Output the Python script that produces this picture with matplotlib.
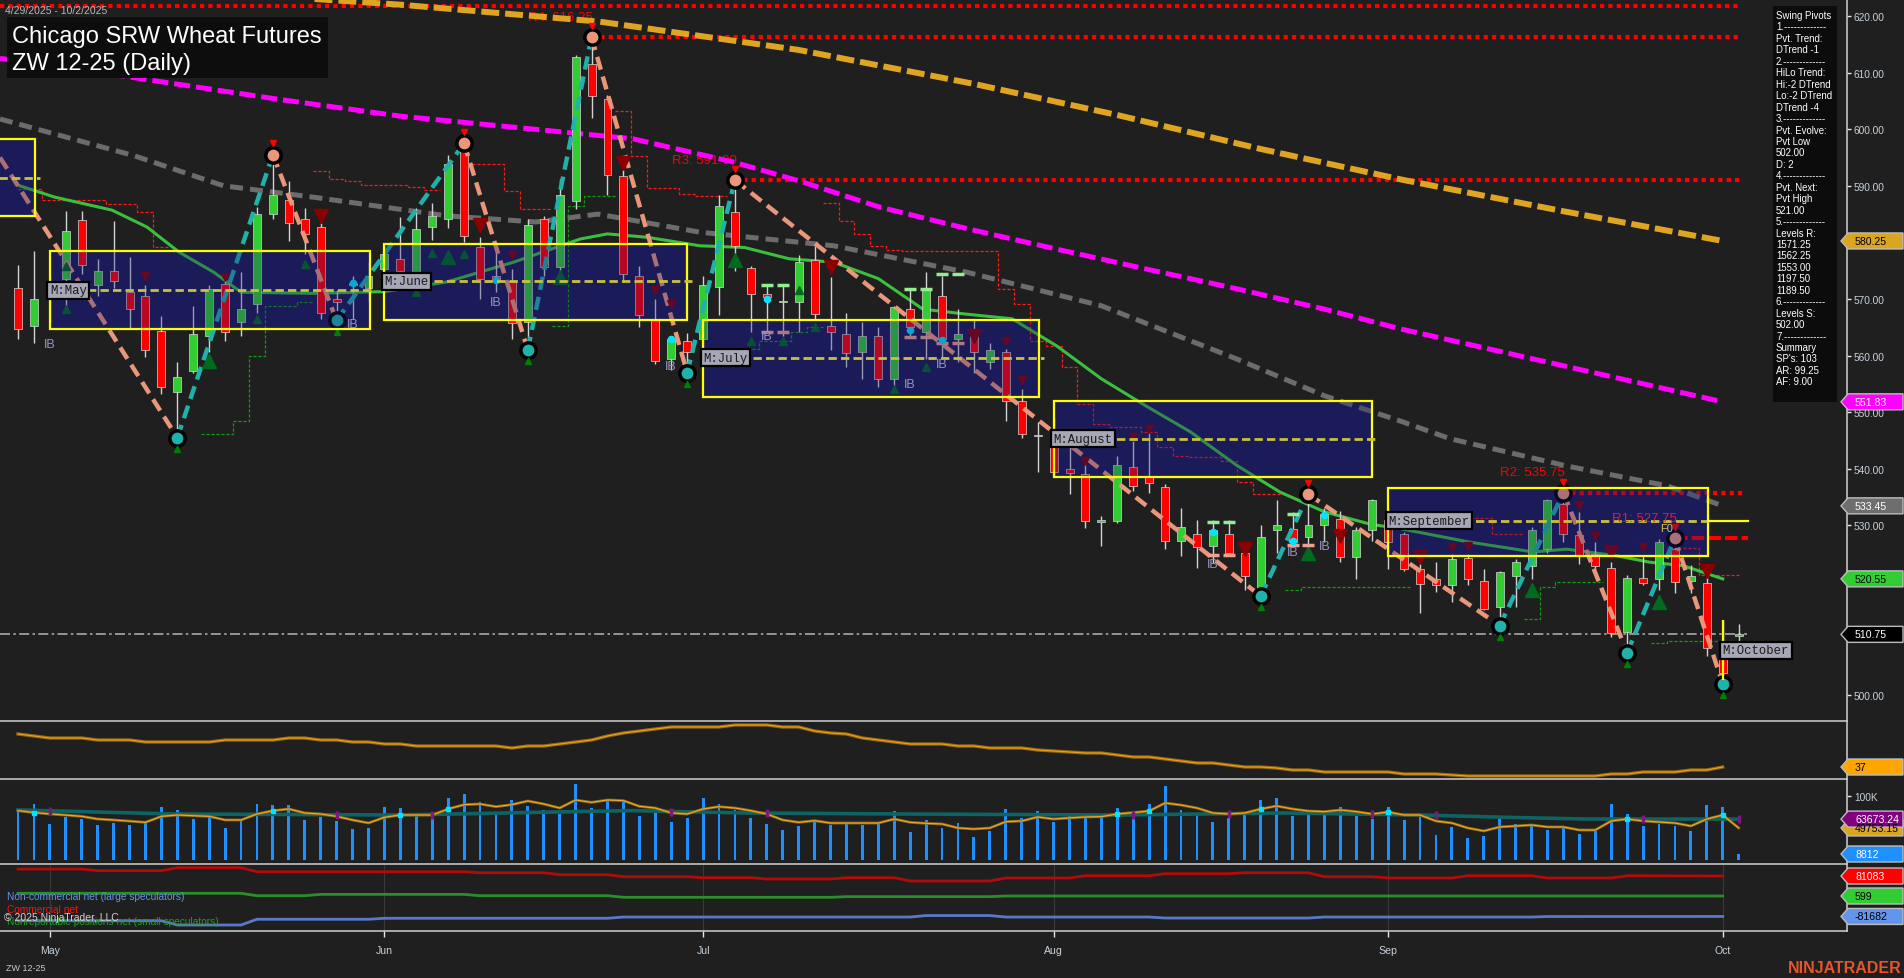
import matplotlib
matplotlib.use("Agg")
import matplotlib.pyplot as plt
from matplotlib.patches import Rectangle, Polygon
import numpy as np
import pandas as pd

plt.rcParams['font.family'] = ['Liberation Sans', 'DejaVu Sans']

W, H = 1904, 979
RIGHT = 1847
BG = '#1f1f1f'
AXC = '#c8d2dc'
XMIN, XMAX = -1.13, 114.8

# ---------------- data ----------------
holidays = pd.to_datetime(['2025-05-26', '2025-06-19', '2025-07-04', '2025-09-01'])
dates = pd.bdate_range('2025-04-29', '2025-10-02')
dates = dates[~dates.isin(holidays)]

opens = [572.0, 565.3, 570.0, 573.5, 584.0, 572.5, 575.0, 571.3, 570.6, 564.3,
         553.6, 557.3, 563.5, 572.6, 566.0, 569.1, 585.0, 587.4, 584.1, 582.7,
         570.0, 572.9, 572.0, 575.3, 577.0, 574.7, 582.7, 584.1, 596.8, 579.1,
         574.1, 573.2, 566.0, 584.1, 575.6, 587.3, 611.5, 605.3, 591.8, 574.1,
         566.2, 559.4, 562.6, 563.0, 572.1, 585.3, 575.4, 570.8, 569.4, 569.4,
         576.8, 565.3, 563.9, 560.6, 563.4, 555.9, 568.3, 564.1, 570.6, 562.9,
         563.8, 558.8, 560.6, 552.0, 545.8, 546.4, 540.0, 539.1, 530.6, 530.8,
         540.4, 538.8, 536.7, 527.3, 528.4, 526.4, 528.4, 525.2, 518.5, 529.1,
         529.4, 527.9, 530.0, 531.1, 524.4, 529.1, 531.0, 528.4, 522.3, 520.5,
         519.4, 524.2, 520.1, 515.5, 521.1, 522.9, 525.8, 533.8, 528.3, 525.0,
         522.4, 511.2, 520.7, 520.5, 525.8, 520.2, 519.8, 508.5, 510.5]
highs = [576.0, 578.5, 574.0, 585.6, 585.5, 577.0, 583.8, 577.4, 572.4, 567.0,
         558.8, 568.8, 572.4, 574.1, 574.7, 586.2, 595.5, 590.9, 586.0, 583.5,
         571.5, 574.1, 576.5, 579.5, 584.4, 586.0, 587.0, 595.5, 597.5, 580.9,
         578.2, 575.3, 584.1, 584.7, 591.2, 613.1, 616.25, 606.0, 593.0, 575.9,
         570.0, 563.5, 564.0, 574.0, 588.3, 591.0, 575.9, 572.4, 572.4, 577.7,
         579.4, 573.8, 567.5, 565.9, 565.0, 568.8, 571.8, 574.7, 574.1, 568.2,
         566.5, 562.3, 561.2, 554.1, 548.2, 549.0, 544.5, 541.5, 531.7, 542.3,
         545.3, 546.9, 537.3, 533.0, 531.0, 531.0, 531.0, 526.0, 530.0, 534.4,
         532.4, 535.5, 533.0, 532.6, 529.7, 534.7, 533.0, 528.8, 523.5, 523.5,
         524.9, 525.0, 522.3, 522.0, 524.1, 529.7, 534.7, 535.75, 532.3, 527.0,
         523.5, 521.2, 524.7, 527.6, 527.75, 523.0, 522.9, 513.2, 512.5]
lows = [563.0, 562.3, 566.0, 567.6, 574.5, 570.6, 572.0, 564.7, 559.7, 553.2,
        545.5, 557.0, 560.6, 562.6, 563.5, 567.6, 584.1, 580.3, 578.0, 566.5,
        566.2, 566.5, 569.5, 573.0, 574.0, 572.5, 580.5, 582.5, 580.0, 570.0,
        571.2, 563.0, 561.0, 574.0, 573.5, 585.9, 602.0, 588.4, 573.0, 565.0,
        558.5, 557.5, 557.0, 561.0, 567.1, 575.0, 564.1, 564.0, 563.5, 564.1,
        566.5, 560.9, 557.9, 555.9, 554.4, 553.5, 563.5, 559.4, 559.4, 558.8,
        557.0, 557.6, 548.5, 545.5, 539.4, 538.5, 535.5, 529.6, 526.4, 530.5,
        536.1, 535.8, 525.8, 524.6, 522.5, 523.4, 524.6, 518.5, 517.5, 525.2,
        526.2, 525.5, 527.0, 523.5, 520.5, 527.3, 522.3, 522.0, 514.6, 518.2,
        516.4, 519.4, 515.0, 512.3, 515.5, 520.5, 525.2, 527.0, 523.2, 522.3,
        510.2, 507.5, 519.4, 518.5, 518.0, 518.0, 507.0, 502.0, 509.5]
closes = [564.7, 570.0, 571.5, 582.0, 576.0, 575.0, 573.2, 568.3, 561.0, 554.4,
          556.3, 563.9, 571.8, 564.1, 568.2, 585.0, 588.3, 583.5, 581.5, 567.6,
          569.4, 572.4, 574.0, 578.0, 575.0, 582.4, 584.7, 593.8, 581.2, 573.6,
          573.2, 565.8, 583.0, 575.6, 588.3, 612.8, 605.9, 591.9, 574.4, 567.1,
          559.1, 562.9, 560.6, 572.5, 586.4, 579.4, 570.9, 570.3, 569.6, 576.5,
          567.3, 564.1, 560.4, 563.5, 555.9, 568.5, 565.0, 571.8, 563.0, 563.8,
          560.6, 560.9, 552.0, 546.1, 545.9, 539.4, 539.3, 530.8, 530.9, 540.6,
          537.0, 537.5, 527.3, 529.7, 526.1, 529.1, 525.2, 521.0, 528.0, 530.0,
          527.0, 530.0, 532.0, 524.4, 529.1, 534.4, 527.0, 522.3, 519.7, 519.5,
          524.1, 520.5, 515.3, 521.7, 523.6, 529.1, 534.4, 528.5, 524.7, 522.9,
          511.0, 520.7, 519.8, 527.1, 520.0, 521.0, 508.3, 504.0, 510.75]

# moving averages (bar index, value)
orange_x = [8, 17, 24, 36.5, 49, 60, 69, 78, 87, 97, 107]
orange_y = [625.0, 623.3, 622.0, 619.0, 614.0, 608.0, 602.5, 596.5, 591.0, 585.5, 580.25]
magenta_x = [-1.13, 1.6, 16.3, 24, 34.2, 38.6, 44.9, 49.1, 54, 59.6, 65.2, 70.8, 76.5, 82, 86.8, 97, 107]
magenta_y = [612.5, 611.5, 605.3, 602.3, 599.5, 598.3, 594.2, 590.8, 586.3, 582.4, 578.8, 575.3,
             571.8, 568.2, 564.7, 558.2, 551.83]
grey_x = [-1.13, 7.3, 12.9, 18.5, 26.9, 32.5, 36.4, 42.8, 51.2, 59.6, 68, 76.5, 82, 86.8, 89.9,
          97.2, 103.5, 107]
grey_y = [601.8, 595.3, 590.0, 588.0, 584.7, 583.6, 585.0, 581.8, 579.4, 574.7, 568.8, 559.4,
          552.9, 548.4, 545.3, 540.5, 537.0, 533.45]
green_x = [0.1, 2.3, 5.9, 8.1, 10.1, 12.3, 14, 18.5, 23, 26.9, 31.1, 35.3, 37, 39.5, 42.8, 45.6,
           48.4, 51.2, 54, 56.8, 59.6, 62.4, 65.2, 68, 70.8, 73.6, 76.5, 79.2, 82, 84.9, 86.8, 91,
           95.1, 97.2, 100.4, 102.4, 104.5, 107]
green_y = [590.0, 588.0, 585.7, 582.7, 578.3, 574.7, 571.2, 571.0, 571.3, 573.0, 576.5, 580.6,
           581.5, 580.9, 579.4, 579.1, 577.1, 576.5, 573.6, 568.2, 567.3, 566.5, 561.7, 555.9,
           551.1, 546.5, 540.6, 535.9, 532.4, 530.2, 529.4, 527.1, 525.3, 525.8, 524.6, 523.5,
           522.9, 520.55]

# trailing stop steps: (first bar, last bar, level)
red_trail = [(0, 1, 589.4), (2, 5, 587.4), (6, 7, 586.8), (8, 8, 585.3), (9, 9, 579.1),
             (19, 19, 592.6), (20, 20, 591.2), (21, 21, 590.8), (22, 24, 590.2), (25, 25, 589.8),
             (26, 26, 589.3), (29, 30, 593.8), (31, 31, 589.1), (32, 33, 585.9),
             (38, 38, 603.2), (39, 39, 595.3), (40, 41, 589.6), (42, 42, 588.6), (43, 44, 588.2),
             (51, 51, 586.9), (52, 52, 583.8), (53, 53, 581.5), (54, 54, 579.4), (55, 55, 578.7),
             (56, 61, 578.4), (62, 62, 571.7), (63, 63, 569.1), (64, 64, 562.6), (65, 65, 561.7),
             (66, 66, 557.9), (67, 67, 551.4), (68, 68, 547.9), (69, 70, 547.3), (71, 71, 546.5),
             (72, 72, 543.8), (73, 73, 542.3), (74, 75, 542.1), (76, 76, 541.4), (77, 77, 537.7),
             (78, 79, 535.5), (91, 92, 531.3), (93, 94, 528.5), (105, 105, 526.0), (106, 108, 521.2)]
green_trail = [(12, 13, 546.2), (14, 14, 548.5), (15, 15, 560.0), (16, 17, 568.8), (18, 18, 569.4),
               (34, 34, 565.3), (35, 35, 586.4), (36, 37, 588.2),
               (45, 46, 561.2), (47, 48, 562.6), (49, 49, 564.1), (50, 50, 565.0),
               (80, 80, 518.5), (81, 87, 519.2), (95, 95, 513.5), (96, 96, 519.2), (97, 99, 520.0),
               (103, 103, 509.2), (104, 107, 509.6)]

# swing pivots
zz_start = (-1.13, 595.0)
piv_idx = [10, 16, 20, 28, 32, 36, 42, 45, 78, 81, 93, 97, 101, 104, 107]
piv_kind = ['L', 'H', 'L', 'H', 'L', 'H', 'L', 'H', 'L', 'H', 'L', 'H', 'L', 'H', 'L']

# resistance levels
res_level = [621.8, 616.25, 591.0, 535.75, 527.75]
res_start = [-1.13, 36, 45, 97, 104]
res_end = [108.0, 108.0, 108.0, 108.3, 108.6]
res_label = ['', 'R4: 616.25', 'R3: 591.00', 'R2: 535.75', 'R1: 527.75']

# monthly boxes
box_start = [-1.5, 2, 23, 43, 65, 86, 107]
box_end = [1.07, 22.1, 42.0, 64.1, 85.0, 106.1, 107.0]
box_top = [598.3, 578.4, 579.7, 566.3, 552.0, 536.6, 513.3]
box_bot = [584.7, 564.7, 566.3, 552.7, 538.6, 524.6, 502.6]
box_mid = [591.4, 571.5, 573.1, 559.6, 545.3, 530.8, 507.95]
box_name = ['', 'May', 'June', 'July', 'August', 'September', 'October']

# signal markers
up_idx = [3, 3, 12, 15, 18, 25, 26, 27, 28, 34, 45, 46, 48, 49, 50, 55, 57, 81, 95, 103]
up_px = [575.9, 568.2, 559.1, 566.5, 576.2, 571.2, 578.2, 577.4, 578.0, 573.8, 576.8, 562.6,
         562.6, 571.5, 565.0, 554.1, 558.0, 525.2, 518.5, 516.4]
up_big = [0, 0, 1, 0, 0, 0, 0, 1, 0, 1, 1, 0, 0, 0, 0, 0, 0, 1, 1, 1]
dn_idx = [8, 13, 19, 29, 31, 38, 40, 41, 51, 60, 62, 63, 67, 70, 71, 77, 83, 88, 90, 91, 98,
          99, 100, 102, 106]
dn_px = [574.1, 573.8, 584.7, 583.0, 577.7, 594.1, 571.5, 569.1, 575.6, 563.5, 562.6, 555.7,
         541.4, 545.6, 547.0, 525.8, 528.2, 524.4, 526.1, 526.4, 533.6, 528.2, 525.3, 526.1, 522.0]
dn_big = [0, 0, 1, 1, 0, 1, 0, 0, 1, 1, 0, 0, 0, 0, 0, 1, 1, 1, 0, 0, 0, 0, 1, 0, 1]
ib_idx = [2, 21, 30, 41, 47, 56, 58, 75, 80, 82]
ib_px = [562.0, 565.6, 569.5, 558.2, 563.5, 555.0, 558.5, 523.2, 525.3, 526.4]
cyan_idx = [21, 30, 41, 47, 56, 58, 75, 80, 82]
cyan_px = [572.9, 573.4, 562.9, 570.0, 564.5, 562.8, 528.8, 527.3, 531.8]
lg_idx = [47, 48, 56, 57, 58, 59, 75, 76, 80, 81]
lg_px = [572.4, 572.4, 571.8, 571.8, 574.4, 574.4, 530.6, 530.6, 532.0, 534.5]
pk_idx = [47, 48, 56, 57, 58, 59, 75, 76, 80, 81]
pk_px = [564.2, 564.2, 563.3, 563.3, 562.2, 562.2, 524.8, 524.8, 526.5, 526.5]

# lower panels
osc_vals = [70, 68, 66, 66, 66, 64, 64, 64, 62, 62,
            62, 62, 62, 64, 64, 64, 64, 66, 66, 64,
            64, 62, 62, 60, 60, 58, 58, 58, 58, 58,
            58, 56, 58, 58, 60, 62, 64, 68, 71, 73,
            75, 77, 77, 77, 77, 79, 79, 79, 77, 77,
            73, 71, 70, 66, 64, 62, 60, 60, 60, 58,
            58, 56, 56, 56, 54, 53, 52, 51, 51, 49,
            47, 47, 45, 43, 41, 41, 39, 37, 37, 36,
            34, 34, 32, 32, 32, 32, 32, 30, 30, 30,
            29, 28, 28, 28, 28, 28, 28, 28, 28, 28,
            30, 30, 32, 32, 32, 34, 34, 37]
vol_k = [76.9, 87.4, 56.0, 67.5, 63.8, 54.4, 57.5, 54.4, 57.5, 82.2,
         78.0, 63.8, 69.0, 49.7, 62.8, 87.4, 85.8, 85.8, 62.8, 67.5,
         60.7, 48.1, 49.7, 82.2, 81.1, 73.3, 63.8, 96.9, 103.1, 90.0,
         72.7, 94.2, 83.8, 78.0, 71.7, 118.9, 81.1, 95.3, 91.1, 68.6,
         73.3, 58.6, 65.4, 96.9, 87.4, 78.0, 65.4, 56.0, 46.5, 52.8,
         62.8, 54.4, 56.0, 54.4, 58.6, 76.9, 42.9, 62.3, 49.7, 57.0,
         35.5, 45.0, 79.6, 65.4, 76.4, 58.6, 71.7, 66.5, 69.0, 81.1,
         69.0, 87.4, 115.3, 78.0, 71.7, 59.1, 65.4, 71.2, 93.7, 96.9,
         68.6, 70.1, 71.7, 82.7, 68.6, 63.8, 82.7, 62.3, 70.1, 38.7,
         51.3, 34.0, 37.1, 63.8, 56.0, 56.0, 46.5, 49.7, 40.3, 45.0,
         87.4, 71.7, 52.8, 56.0, 52.8, 45.0, 85.8, 82.7, 8.812]
vol_ma = [76.9, 74.0, 71.7, 70.0, 68.0, 63.8, 62.3, 60.5, 58.6, 68.0,
          70.1, 69.0, 68.0, 62.3, 62.3, 71.7, 76.9, 79.6, 73.3, 71.7,
          68.0, 62.3, 57.5, 66.5, 70.1, 70.1, 70.1, 79.6, 86.4, 87.4,
          83.2, 86.4, 92.2, 87.4, 81.1, 93.7, 90.0, 93.7, 92.7, 83.8,
          81.1, 73.3, 71.7, 79.6, 83.2, 81.1, 76.9, 71.7, 62.3, 58.6,
          61.2, 57.5, 57.5, 57.5, 57.5, 63.8, 58.6, 57.0, 56.0, 49.7,
          48.1, 49.7, 59.6, 60.7, 67.0, 63.8, 65.5, 67.0, 67.5, 71.7,
          74.0, 76.4, 89.0, 85.8, 81.1, 73.3, 71.7, 73.3, 79.6, 84.3,
          79.6, 76.4, 75.4, 78.0, 75.4, 71.7, 74.8, 70.1, 70.1, 60.7,
          57.5, 49.7, 45.0, 51.3, 52.8, 54.4, 51.3, 51.3, 46.5, 46.5,
          60.7, 63.8, 60.7, 59.1, 57.5, 52.8, 63.8, 70.1, 49.75315]
vol_slow_x = [0, 9.7, 24.1, 34.9, 38.5, 45.7, 55.4, 69.1, 79.5, 88.1, 93.3, 98.4, 108]
vol_slow_y = [78.0, 71.7, 70.1, 75.4, 77.0, 73.3, 71.7, 70.1, 73.3, 70.1, 66.5, 63.8, 63.67324]
vol_cyan_idx = [1, 16, 24, 27, 69, 71, 78, 86, 101, 107]
vol_purple_idx = [2, 20, 26, 41, 47, 70, 76, 85, 89, 102, 108]
vol_purple_y = [76.9, 70.1, 70.1, 75.4, 73.3, 70.1, 71.7, 71.7, 70.1, 63.8, 63.8]

cot_red_x = [0, 4, 5, 9, 10, 14, 15, 28, 29, 33, 34, 37, 38, 42, 43, 46, 47, 51, 52, 55, 56, 61,
             62, 66, 67, 71, 72, 76, 77, 81, 82, 85, 86, 90, 91, 95, 96, 100, 101, 107]
cot_red_y = [109.2, 109.2, 102.4, 102.4, 114.5, 114.5, 98.2, 98.2, 94.2, 94.2, 86.3, 86.3, 78.3,
             78.3, 74.2, 74.2, 69.0, 69.0, 74.2, 74.2, 60.9, 60.9, 73.0, 73.0, 82.3, 82.3, 90.4,
             90.4, 94.2, 94.2, 78.3, 78.3, 73.0, 73.0, 82.3, 82.3, 73.0, 73.0, 82.3, 81.083]
cot_green_x = [0, 14, 15, 18, 19, 28, 29, 37, 38, 51, 52, 61, 62, 107]
cot_green_y = [11.5, 11.5, 1.8, 1.8, 7.2, 7.2, 1.8, 1.8, -4.6, -4.6, -2.0, -2.0, 0.6, 0.599]
cot_blue_x = [0, 9, 10, 14, 15, 22, 23, 37, 38, 56, 57, 61, 62, 71, 72, 81, 82, 95, 96, 107]
cot_blue_y = [-99, -99, -116, -116, -93, -93, -89, -89, -84, -84, -78, -78, -84, -84, -88, -88,
              -84, -84, -82, -81.682]

info_lines = ['Swing Pivots', '1.-------------', 'Pvt. Trend:', 'DTrend -1', '2.-------------',
              'HiLo Trend:', 'Hi:-2 DTrend', 'Lo:-2 DTrend', 'DTrend -4', '3.-------------',
              'Pvt. Evolve:', 'Pvt Low', '502.00', 'D: 2', '4.-------------', 'Pvt. Next:',
              'Pvt High', '521.00', '5.-------------', 'Levels R:', '1571.25', '1562.25',
              '1553.00', '1197.50', '1189.50', '6.-------------', 'Levels S:', '502.00',
              '7.-------------', 'Summary', "SP's: 103", 'AR: 99.25', 'AF: 9.00']

# ---------------- figure ----------------
fig = plt.figure(figsize=(W / 100, H / 100), dpi=100, facecolor=BG)


def panel(top, bottom):
    a = fig.add_axes([0, 1 - bottom / H, RIGHT / W, (bottom - top) / H])
    a.set_facecolor(BG)
    a.set_xlim(XMIN, XMAX)
    for s in a.spines.values():
        s.set_visible(False)
    a.tick_params(axis='x', bottom=False, labelbottom=False)
    a.yaxis.tick_right()
    a.tick_params(axis='y', colors='#e6e6e6', labelcolor=AXC, labelsize=7.3,
                  length=3, width=1, pad=2)
    return a


ax = panel(0, 722)
ax_osc = panel(722, 780)
ax_vol = panel(780, 865)
ax_cot = panel(865, 932)

ax.set_ylim(495.44, 623.0)
price_ticks = np.arange(500, 621, 10)

xi = np.arange(len(dates))
o, hh, ll, c = map(np.array, (opens, highs, lows, closes))

# monthly boxes
for s, e, t, b, m, name in zip(box_start, box_end, box_top, box_bot, box_mid, box_name):
    ax.add_patch(Rectangle((s, b), e - s, t - b, fc='#1c1c50', ec='none', zorder=1))
    ax.add_patch(Rectangle((s, b), e - s, t - b, fc='#191970', alpha=0.3, ec='none', zorder=6))
    ax.add_patch(Rectangle((s, b), e - s, t - b, fill=False, ec='#ffff00', lw=1.6, zorder=7))
    ax.plot([s, e + 0.3], [m, m], color='#c8c23a', lw=2, dashes=(3, 1.5), zorder=7)
    if name:
        ax.text(s, m, 'M:' + name, family='Liberation Mono', fontsize=8.8, color='#1a1a1a',
                ha='left', va='center', zorder=8,
                bbox=dict(boxstyle='square,pad=0.2', fc='#a6a6b6', ec='black', lw=1.6))
ax.plot([box_end[5], 108.6], [box_mid[5]] * 2, color='#ffff00', lw=1.6, zorder=7)

# trailing steps
for trail, col in ((red_trail, '#ff1a1a'), (green_trail, '#0fa00f')):
    arr = np.full(len(xi), np.nan)
    for a0, a1, lev in trail:
        arr[a0:a1 + 1] = lev
    ax.plot(xi, arr, drawstyle='steps-mid', color=col, lw=0.9, dashes=(2.5, 1.5), zorder=2)

# moving averages
ax.plot(grey_x, grey_y, color='#6c6c6c', lw=3.6, dashes=(2.6, 1.4), zorder=3)
ax.plot(magenta_x, magenta_y, color='#ff00ff', lw=3.6, dashes=(3.2, 1.2), zorder=3)
ax.plot(orange_x, orange_y, color='#dfa522', lw=4.3, dashes=(3, 1), zorder=3)
ax.plot(green_x, green_y, color='#3cbf3c', lw=2.2, zorder=3)

# resistance levels
for lev, s, e, lab in zip(res_level, res_start, res_end, res_label):
    style = (0, (3, 1)) if lab.startswith('R1') else (0, (1, 1))
    ax.plot([s, e], [lev, lev], color='#ff0000', lw=3, linestyle=style, zorder=2.8)
    if lab.startswith('R1'):
        ax.text(s + 0.1, lev + 3.6, lab, color='#d81e48', fontsize=9.5, ha='right',
                va='center', zorder=7.5)
    elif lab:
        ax.text(s + 0.1, lev + 3.6, lab, color='#ff0000', fontsize=9.5, ha='right',
                va='center', zorder=2.5)
ax.text(103.5, 529.5, 'F0', color='#d4c24a', fontsize=8, ha='center', va='center', zorder=7.5)

# last price line
ax.plot([XMIN, 108.5], [closes[-1]] * 2, color='#a8a8a8', lw=1.2, dashes=(6, 2, 1.5, 2), zorder=3)

# candles
ax.vlines(xi, ll, hh, color='#d2d2d2', lw=1, zorder=4)
body = np.where(np.abs(c - o) < 0.15, 0.15, c - o)
ax.bar(xi, body, bottom=o, width=0.5, color=list(np.where(c >= o, '#32cd32', '#ff0000')),
       edgecolor='#d8d8d8', linewidth=0.5, zorder=4.5)

# swing zigzag
piv_px = [hh[i] if k == 'H' else ll[i] for i, k in zip(piv_idx, piv_kind)]
zx = [zz_start[0]] + piv_idx
zy = [zz_start[1]] + piv_px
for i in range(len(zx) - 1):
    col = '#e9967a' if zy[i + 1] < zy[i] else '#20b2aa'
    ax.plot(zx[i:i + 2], zy[i:i + 2], color=col, lw=3.2, dashes=(3, 1.6), zorder=5)

# markers
for i, p, big in zip(up_idx, up_px, up_big):
    ax.plot(i, p, '^', ms=10 if big else 6, color='#006a1e', zorder=5.2)
for i, p, big in zip(dn_idx, dn_px, dn_big):
    ax.plot(i, p, 'v', ms=10 if big else 6, color='#8b0000', zorder=5.2)
ax.plot(lg_idx, lg_px, '_', ms=9, mew=2.5, color='#90ee90', ls='none', zorder=5.3)
ax.plot(pk_idx, pk_px, '_', ms=9, mew=2.5, color='#f0a08c', ls='none', zorder=5.3)
ax.plot(cyan_idx, cyan_px, 'o', ms=4.5, color='#00e5ff', ls='none', zorder=5.3)
for i, p, k in zip(piv_idx, piv_px, piv_kind):
    fc = '#e9967a' if k == 'H' else '#20b2aa'
    ax.plot(i, p, 'o', ms=11, mfc=fc, mec='black', mew=2.5, zorder=5.5)
    if k == 'H':
        ax.plot(i, p + 2.0, 'v', ms=5, color='#ff0000', zorder=5.6)
    else:
        ax.plot(i, p - 2.0, '^', ms=5, color='#008000', zorder=5.6)
for i, p in zip(ib_idx, ib_px):
    ax.text(i, p, 'IB', color='#9494c8', fontsize=9, ha='center', va='center', zorder=7.5)

# oscillator
ax_osc.set_ylim(25, 83)
ax_osc.set_yticks([])
ax_osc.plot(np.arange(len(osc_vals)), osc_vals, color='#946a10', lw=2.4)
ax_osc.plot(np.arange(len(osc_vals)), osc_vals, color='#f0a020', lw=0.8)

# volume
ax_vol.set_ylim(-6.9, 126.7)
ax_vol.set_yticks([100])
ax_vol.set_yticklabels(['100K'])
ax_vol.bar(xi, vol_k, width=0.18, color='#1e90ff', zorder=2)
ax_vol.plot(vol_slow_x, vol_slow_y, color='#0e6464', lw=2.6, zorder=3)
ax_vol.plot(xi, vol_ma, color='#8a6a14', lw=2.0, zorder=4)
ax_vol.plot(xi, vol_ma, color='#f0a830', lw=0.8, zorder=4.1)
ax_vol.plot(vol_cyan_idx, [vol_ma[i] for i in vol_cyan_idx], 's', ms=3, color='#00e5ff',
            ls='none', zorder=5)
ax_vol.plot(vol_purple_idx, vol_purple_y, '|', ms=6, mew=2.5, color='#7a1a7a', ls='none', zorder=5)

# COT
ax_cot.set_ylim(-140.2, 129.4)
ax_cot.set_yticks([])
ax_cot.plot(cot_red_x, cot_red_y, color='#b40a0a', lw=2)
ax_cot.plot(cot_green_x, cot_green_y, color='#2a8f2a', lw=2)
ax_cot.plot(cot_blue_x, cot_blue_y, color='#5a78c8', lw=2)
month_idx = [i for i in range(1, len(dates)) if dates[i].month != dates[i - 1].month]
ax_cot.set_xticks(month_idx)
ax_cot.set_xticklabels([dates[i].strftime('%b') for i in month_idx])
ax_cot.tick_params(axis='x', bottom=True, labelbottom=True, colors='#e6e6e6', labelcolor=AXC,
                   labelsize=7.6, length=4, width=1, pad=6)
ax_cot.grid(axis='x', color='#3a3a3a', lw=0.8)
ax_cot.set_axisbelow(True)
ax_cot.text(0.004, 0.52, 'Non-commercial net (large speculators)', transform=ax_cot.transAxes,
            color='#6a8ff0', fontsize=7.3, va='center')
ax_cot.text(0.004, 0.33, 'Commercial net', transform=ax_cot.transAxes,
            color='#ff1010', fontsize=7.3, va='center')
ax_cot.text(0.004, 0.15, 'Nonreportable positions net (small speculators)',
            transform=ax_cot.transAxes, color='#22a022', fontsize=7.3, va='center')
ax_cot.text(0.002, 0.21, '\u00a9 2025 NinjaTrader, LLC', transform=ax_cot.transAxes,
            color='#d2d2d2', fontsize=7.5, va='center')

# ---------------- overlay (pixel space) ----------------
ov = fig.add_axes([0, 0, 1, 1], zorder=20)
ov.set_xlim(0, W)
ov.set_ylim(H, 0)
ov.axis('off')

for y in (722, 780, 865, 932):
    ov.plot([0, RIGHT], [y, y], color='#d0d0d0', lw=1.1)
ov.plot([RIGHT, RIGHT], [0, 932], color='#d0d0d0', lw=1.1)


def ypix(a, v):
    return H - a.transData.transform((0, v))[1]


def tag(ypx, text, fc, tc):
    pts = [(1841, ypx), (1848, ypx - 8), (1903, ypx - 8), (1903, ypx + 8), (1848, ypx + 8)]
    ov.add_patch(Polygon(pts, closed=True, fc=fc, ec='#bdbdbd', lw=1, zorder=10))
    ov.text(1855, ypx, text, color=tc, fontsize=7.6, ha='left', va='center', zorder=11)


main_tags = [(orange_y[-1], '#daa520', 'black'), (magenta_y[-1], '#ff00ff', 'white'),
             (grey_y[-1], '#6e6e6e', 'white'), (green_y[-1], '#32cd32', 'black'),
             (closes[-1], 'black', 'white')]
tag_px = []
for v, fc, tc in main_tags:
    yp = ypix(ax, v)
    tag_px.append(yp)
    tag(yp, '%.2f' % v, fc, tc)

# price tick labels hidden where a tag sits on them
ax.set_yticks(price_ticks)
ax.set_yticklabels(['' if min(abs(ypix(ax, t) - yp) for yp in tag_px) < 9 else '%.2f' % t
                    for t in price_ticks])

tag(ypix(ax_osc, osc_vals[-1]), '%d' % osc_vals[-1], '#ffa500', 'black')
tag(ypix(ax_vol, vol_ma[-1]), '%.2f' % (vol_ma[-1] * 1000), '#daa520', 'black')
tag(ypix(ax_vol, vol_slow_y[-1]), '%.2f' % (vol_slow_y[-1] * 1000), '#800080', 'white')
tag(ypix(ax_vol, vol_k[-1]), '%.0f' % (vol_k[-1] * 1000), '#1e90ff', 'white')
tag(ypix(ax_cot, cot_red_y[-1]), '%.0f' % (cot_red_y[-1] * 1000), '#ff0000', 'white')
tag(ypix(ax_cot, cot_green_y[-1]), '%.0f' % (cot_green_y[-1] * 1000), '#32cd32', 'black')
tag(ypix(ax_cot, cot_blue_y[-1]), '%.0f' % (cot_blue_y[-1] * 1000), '#6495ed', 'black')

# title block
ov.add_patch(Rectangle((7, 18), 321, 61, fc='#0d0d0d', ec='none', zorder=9))
ov.text(12, 43, 'Chicago SRW Wheat Futures', color='white', fontsize=17, va='baseline', zorder=10)
ov.text(12, 70, 'ZW 12-25 (Daily)', color='white', fontsize=17, va='baseline', zorder=10)
ov.text(5, 11.5, '4/29/2025 - 10/2/2025', color='#b8b8b8', fontsize=7.5, va='center', zorder=10)

# swing pivots info panel
ov.add_patch(Rectangle((1773, 7), 64, 396, fc='#0c0c0c', ec='none', zorder=9))
for k, line in enumerate(info_lines):
    ov.text(1776, 16 + k * 11.45, line, color='white', fontsize=6.9, va='center', zorder=10)

ov.text(6, 969, 'ZW 12-25', color='#c8c8c8', fontsize=6.5, va='center')
ov.text(1902, 969, 'NINJATRADER', color='#e8552b', fontsize=11.5, fontweight='bold',
        ha='right', va='center')

fig.savefig('out.png', dpi=100, facecolor=BG)
